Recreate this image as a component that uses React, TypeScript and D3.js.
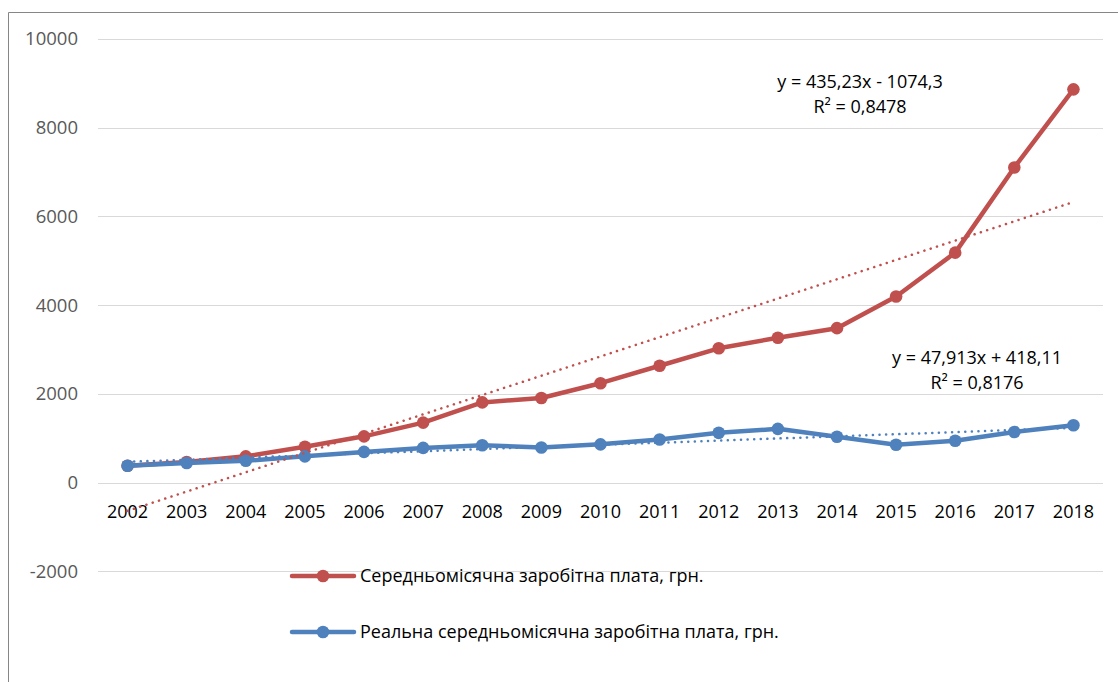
import React from "react";
import * as d3 from "d3";

const years = ["2002","2003","2004","2005","2006","2007","2008","2009","2010","2011","2012","2013","2014","2015","2016","2017","2018"];
const nominalWage = [376, 462, 590, 806, 1041, 1351, 1806, 1906, 2239, 2633, 3026, 3265, 3480, 4195, 5183, 7104, 8865];
const realWage = [376, 440, 490, 590, 690, 780, 840, 790, 860, 970, 1120, 1210, 1030, 850, 940, 1140, 1290];
const yTicks = [-2000, 0, 2000, 4000, 6000, 8000, 10000];
const seriesNames = ["Середньомісячна заробітна плата, грн.", "Реальна середньомісячна заробітна плата, грн."];
const trendRed = { slope: 435.23, intercept: -1074.3, eq: "y = 435,23x - 1074,3", r2: "R² = 0,8478" };
const trendBlue = { slope: 47.913, intercept: 418.11, eq: "y = 47,913x + 418,11", r2: "R² = 0,8176" };

const RED = "#C0504D";
const BLUE = "#4F81BD";
const FONT = "'Open Sans', 'Noto Sans', sans-serif";

export default function App() {
  const W = 1118, H = 682;
  const x = d3.scalePoint<string>().domain(years).range([98, 1103]).padding(0.5);
  const y = d3.scaleLinear().domain([-2000, 10000]).range([571.2, 39]);
  const line = d3.line<number>().x((_, i) => x(years[i])!).y((d) => y(d));
  const trend = (t: { slope: number; intercept: number }) =>
    d3.line<number>().x((i) => x(years[i])!).y((i) => y(t.slope * (i + 1) + t.intercept))([0, years.length - 1]) || "";

  const series = [
    { data: nominalWage, color: RED },
    { data: realWage, color: BLUE },
  ];

  return (
    <svg width={W} height={H} style={{ position: "absolute", left: 0, top: 0, background: "#fff" }} fontFamily={FONT}>
      <rect x={0} y={0} width={W} height={H} fill="#fff" />
      <line x1={8.5} y1={12.5} x2={W} y2={12.5} stroke="#868686" strokeWidth={1} />
      <line x1={8.5} y1={12.5} x2={8.5} y2={H} stroke="#868686" strokeWidth={1} />
      {yTicks.map((t) => (
        <g key={t}>
          <line x1={98} x2={1103} y1={Math.round(y(t)) + 0.5} y2={Math.round(y(t)) + 0.5} stroke="#D9D9D9" strokeWidth={1} />
          <text x={78} y={y(t)} dy="0.35em" textAnchor="end" fontSize={18.5} fill="#595959">{t}</text>
        </g>
      ))}
      {years.map((yr) => (
        <text key={yr} x={x(yr)} y={512} dy="0.35em" textAnchor="middle" fontSize={18} fill="#000">{yr}</text>
      ))}
      {series.map((s, si) => (
        <g key={si}>
          <path d={line(s.data) || ""} fill="none" stroke={s.color} strokeWidth={4.5} strokeLinejoin="round" strokeLinecap="round" />
          {s.data.map((v, i) => (
            <circle key={i} cx={x(years[i])} cy={y(v)} r={6.3} fill={s.color} />
          ))}
        </g>
      ))}
      <path d={trend(trendRed)} fill="none" stroke={RED} strokeWidth={2.5} strokeDasharray="0.1 6.5" strokeLinecap="round" />
      <path d={trend(trendBlue)} fill="none" stroke={BLUE} strokeWidth={2.5} strokeDasharray="0.1 6.5" strokeLinecap="round" />
      <text x={860} y={82} dy="0.35em" textAnchor="middle" fontSize={18} fill="#000">{trendRed.eq}</text>
      <text x={860} y={107} dy="0.35em" textAnchor="middle" fontSize={18} fill="#000">{trendRed.r2}</text>
      <text x={977} y={358} dy="0.35em" textAnchor="middle" fontSize={18} fill="#000">{trendBlue.eq}</text>
      <text x={977} y={383} dy="0.35em" textAnchor="middle" fontSize={18} fill="#000">{trendBlue.r2}</text>
      {seriesNames.map((n, i) => {
        const cy = 576 + i * 56;
        const c = i === 0 ? RED : BLUE;
        return (
          <g key={n}>
            <line x1={292} x2={354} y1={cy} y2={cy} stroke={c} strokeWidth={4.5} strokeLinecap="round" />
            <circle cx={323} cy={cy} r={6.3} fill={c} />
            <text x={360} y={cy} dy="0.35em" fontSize={18} fill="#000">{n}</text>
          </g>
        );
      })}
    </svg>
  );
}
